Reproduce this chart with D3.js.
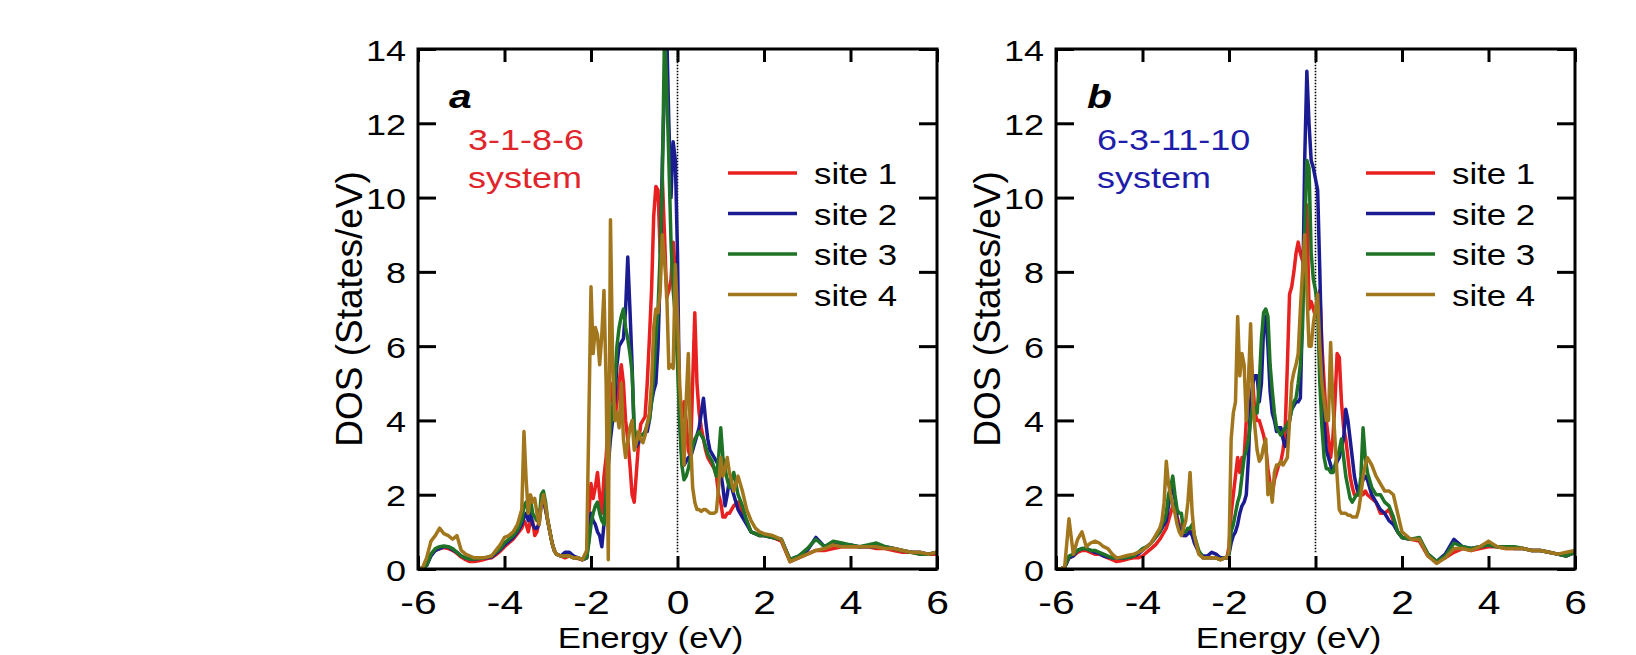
<!DOCTYPE html>
<html>
<head>
<meta charset="utf-8">
<script src="https://cdn.jsdelivr.net/npm/d3@7"></script>
<style>
body { margin: 0; background: #fff; }
svg text { font-family: "Liberation Sans", Arial, sans-serif; fill: #000; }
</style>
</head>
<body>
<div id="chart"></div>
<script>
// energy grid (eV), shared by all curves
var energy = [
  -6.0, -5.9, -5.8, -5.7, -5.6, -5.5, -5.4, -5.3, -5.2, -5.1,
  -5.0, -4.9, -4.8, -4.7, -4.6, -4.5, -4.4, -4.3, -4.2, -4.1,
  -4.0, -3.9, -3.8, -3.7, -3.6,
  -3.55, -3.5, -3.45, -3.4, -3.35, -3.3, -3.25, -3.2, -3.15, -3.1, -3.05, -3.0, -2.95, -2.9, -2.85, -2.8,
  -2.7, -2.6, -2.5, -2.4, -2.3, -2.2, -2.1,
  -2.05, -2.0, -1.95, -1.9, -1.85, -1.8, -1.75, -1.7, -1.65, -1.6,
  -1.55, -1.5, -1.45, -1.4, -1.35, -1.3, -1.25, -1.2, -1.15, -1.1,
  -1.05, -1.0, -0.95, -0.9, -0.85, -0.8, -0.75, -0.7, -0.65, -0.6,
  -0.55, -0.5, -0.45, -0.4, -0.35, -0.3, -0.25, -0.2, -0.15, -0.1,
  -0.05, 0.0, 0.05, 0.1, 0.15, 0.2, 0.25, 0.3, 0.35, 0.4,
  0.45, 0.5, 0.55, 0.6, 0.65, 0.7, 0.75, 0.8, 0.85, 0.9,
  0.95, 1.0, 1.05, 1.1, 1.15, 1.2,
  1.3, 1.4, 1.5, 1.6, 1.7, 1.8, 1.9, 2.0,
  2.2, 2.4, 2.6, 2.8, 3.0, 3.2, 3.4, 3.6, 3.8, 4.0,
  4.2, 4.4, 4.6, 4.8, 5.0, 5.2, 5.4, 5.6, 5.8, 6.0
];

var siteNames = ["site 1", "site 2", "site 3", "site 4"];
var siteColors = ["#e8201f", "#1c1c92", "#1f7326", "#a2761c"];
var xTicks = [-6, -4, -2, 0, 2, 4, 6];
var yTicks = [0, 2, 4, 6, 8, 10, 12, 14];
var panelLetters = ["a", "b"];
var systemNames = ["3-1-8-6", "6-3-11-10"];
var systemColors = ["#e0262b", "#1e1eaa"];

// panel a : 3-1-8-6 system
var a_site1 = [
  0, 0.02, 0.1, 0.4, 0.5, 0.55, 0.58, 0.55, 0.5, 0.42,
  0.32, 0.25, 0.2, 0.2, 0.22, 0.25, 0.28, 0.3, 0.38, 0.48,
  0.6, 0.7, 0.8, 0.95, 1.1,
  1.3, 1.2, 1.0, 1.3, 1.3, 0.9, 1.0, 1.3, 1.8, 2.0, 1.6, 1.3, 1.0, 0.7, 0.5, 0.4,
  0.35, 0.3, 0.35, 0.3, 0.28, 0.25, 0.3,
  1.5, 2.3, 1.9, 2.2, 2.6, 2.0, 1.5, 2.5, 3.0, 4.0,
  5.0, 4.6, 4.0, 4.5, 5.0, 5.5, 5.0, 4.0, 3.5, 2.8,
  2.0, 1.8, 2.6, 3.4, 3.9, 4.0, 4.1, 5.0, 6.2, 7.5,
  9.5, 10.3, 10.2, 8.5, 10.5, 9.0, 7.3, 7.5, 7.8, 8.8,
  8.0, 6.5, 4.2, 4.0, 4.5, 4.0, 3.2, 3.0, 5.0, 6.9,
  5.0, 4.2, 3.8, 3.5, 3.2, 3.0, 2.9, 2.8, 2.7, 2.5,
  2.0, 1.8, 1.4, 1.4, 1.5, 1.5,
  1.7, 1.8, 1.5, 1.3, 1.0, 0.95, 0.9, 0.9,
  0.85, 0.75, 0.2, 0.3, 0.4, 0.5, 0.5, 0.55, 0.6, 0.6,
  0.6, 0.6, 0.55, 0.55, 0.5, 0.45, 0.45, 0.4, 0.4, 0.4
];
var a_site2 = [
  0, 0.02, 0.1, 0.35, 0.5, 0.55, 0.6, 0.6, 0.52, 0.45,
  0.35, 0.3, 0.27, 0.27, 0.28, 0.3, 0.3, 0.32, 0.42, 0.52,
  0.65, 0.75, 0.85, 1.0, 1.2,
  1.4, 1.5, 1.3, 1.5, 1.2, 1.1, 1.1, 1.2, 1.8, 1.9, 1.6, 1.3, 1.0, 0.7, 0.5, 0.4,
  0.35, 0.45, 0.45, 0.35, 0.3, 0.25, 0.3,
  0.8, 1.5, 1.3, 1.2, 1.0, 0.9, 0.6, 1.2, 2.0, 2.8,
  3.5, 4.0, 4.5, 5.5, 6.0, 6.1, 6.2, 7.0, 8.4, 7.0,
  5.5, 3.5, 3.3, 3.4, 3.6, 3.6, 3.7, 3.7, 4.0, 4.5,
  4.8, 5.0, 6.0, 8.0, 11.0, 13.0, 14.5, 12.0, 10.0, 11.5,
  11.0, 8.5, 4.0, 3.0, 2.8, 2.9, 3.0, 3.0, 3.2, 3.4,
  3.6, 3.8, 4.2, 4.6, 4.0, 3.5, 3.2, 3.1, 3.0, 2.9,
  2.8, 2.6, 2.2, 1.7, 2.0, 2.4,
  2.0, 1.6, 1.4, 1.2, 1.0, 0.95, 0.9, 0.9,
  0.85, 0.8, 0.25, 0.35, 0.5, 0.85, 0.6, 0.7, 0.65, 0.65,
  0.6, 0.6, 0.6, 0.6, 0.55, 0.5, 0.45, 0.45, 0.4, 0.45
];
var a_site3 = [
  0, 0.02, 0.1, 0.4, 0.55, 0.6, 0.62, 0.6, 0.55, 0.45,
  0.35, 0.3, 0.27, 0.27, 0.28, 0.3, 0.32, 0.35, 0.45, 0.55,
  0.7, 0.8, 0.9, 1.05, 1.3,
  1.7, 1.8, 1.5, 1.9, 1.5, 1.4, 1.3, 1.3, 2.0, 2.1, 1.8, 1.3, 1.0, 0.7, 0.5, 0.4,
  0.35, 0.35, 0.35, 0.3, 0.3, 0.25, 0.3,
  0.7, 1.2, 1.5, 1.7, 1.8, 1.5, 1.3, 1.2, 2.0, 3.0,
  3.8, 4.3, 5.0, 6.0, 6.5, 6.8, 7.0, 6.5, 6.2, 5.8,
  5.3, 3.8, 3.5, 3.5, 3.6, 3.6, 3.7, 3.9, 4.0, 4.5,
  5.2, 6.2, 7.0, 8.5, 10.5, 14.5, 13.0, 11.0, 8.8, 7.5,
  6.8, 5.5, 4.0, 2.8, 2.4, 2.5, 2.7, 3.0, 3.3, 3.5,
  3.6, 3.7, 3.6, 3.5, 3.3, 3.1, 3.0, 2.9, 2.7, 2.5,
  3.0, 3.8, 3.0, 2.7, 2.4, 2.2,
  2.6, 2.0, 1.7, 1.3, 1.0, 0.95, 0.9, 0.9,
  0.85, 0.8, 0.25, 0.35, 0.55, 0.8, 0.6, 0.75, 0.7, 0.65,
  0.6, 0.65, 0.7, 0.6, 0.55, 0.5, 0.45, 0.4, 0.4, 0.45
];
var a_site4 = [
  0, 0.02, 0.3, 0.75, 0.9, 1.1, 0.95, 0.9, 0.8, 0.9,
  0.5, 0.4, 0.35, 0.3, 0.3, 0.3, 0.32, 0.35, 0.5, 0.65,
  0.85, 0.9, 1.0, 1.2, 1.6,
  3.7, 2.4, 1.5, 2.0, 1.8, 1.9, 1.5, 1.2, 1.7, 2.0, 1.7, 1.3, 1.0, 0.7, 0.5, 0.4,
  0.35, 0.35, 0.35, 0.3, 0.3, 0.25, 0.5,
  4.0, 7.6, 5.8, 6.5, 6.3, 5.5, 6.3, 7.5, 5.0, 0.25,
  9.4, 5.6, 4.0, 4.2, 3.8, 5.0, 3.5, 3.0, 3.4, 3.8,
  4.0, 3.2, 3.4, 3.7, 3.5, 3.4, 3.6, 3.9, 4.2, 5.0,
  6.5, 7.0, 6.9, 7.5, 9.0, 8.3, 7.5, 5.4, 5.5, 5.4,
  8.2, 6.8, 5.0, 4.0, 2.8, 4.5, 5.8, 3.5, 2.2, 1.8,
  1.6, 1.6, 1.55, 1.6, 1.6, 1.55, 1.5, 1.5, 1.5, 1.55,
  2.2, 3.0, 2.5, 2.7, 3.0, 2.6,
  2.1, 2.5, 2.1, 1.6, 1.3, 1.1, 1.0, 0.95,
  0.9, 0.8, 0.2, 0.3, 0.4, 0.5, 0.55, 0.65, 0.6, 0.6,
  0.6, 0.6, 0.6, 0.55, 0.55, 0.5, 0.45, 0.45, 0.4, 0.45
];

// panel b : 6-3-11-10 system
var b_site1 = [
  0, 0, 0.05, 0.3, 0.35, 0.45, 0.5, 0.5, 0.45, 0.4,
  0.4, 0.35, 0.3, 0.25, 0.2, 0.22, 0.25, 0.28, 0.3, 0.3,
  0.35, 0.45, 0.55, 0.65, 0.8,
  0.9, 1.0, 1.1, 1.3, 1.5, 1.7, 1.6, 1.4, 1.2, 1.0, 0.9, 0.9, 1.0, 1.0, 1.0, 0.8,
  0.45, 0.3, 0.3, 0.3, 0.3, 0.25, 0.3,
  0.3, 0.6, 1.5, 2.0, 2.5, 3.0, 2.6, 3.0, 3.0, 4.0,
  5.0, 6.0, 5.0, 4.2, 4.0, 4.0, 3.8, 3.6, 3.3, 2.7,
  2.3, 2.0, 2.4, 2.6, 2.8, 2.9, 3.2, 3.8, 5.5, 7.4,
  7.6, 8.0, 8.5, 8.8, 8.5, 8.3, 9.0, 9.8, 7.0, 7.2,
  7.0, 6.8, 7.2, 7.5, 6.0, 5.0, 4.0, 3.5, 3.0, 3.5,
  4.5, 5.8, 5.7, 4.5, 3.8, 3.5, 3.0, 2.5, 2.2, 2.0,
  2.0, 2.0, 2.0, 2.0, 2.1, 2.0,
  1.9, 1.8, 1.5, 1.5, 1.6, 1.3, 1.0, 0.85,
  0.8, 0.75, 0.35, 0.2, 0.3, 0.45, 0.55, 0.5, 0.55, 0.6,
  0.6, 0.55, 0.55, 0.55, 0.5, 0.5, 0.45, 0.4, 0.35, 0.45
];
var b_site2 = [
  0, 0, 0.05, 0.3, 0.35, 0.5, 0.55, 0.55, 0.5, 0.45,
  0.42, 0.35, 0.32, 0.3, 0.3, 0.3, 0.3, 0.32, 0.35, 0.4,
  0.5, 0.6, 0.7, 0.85, 1.0,
  1.1, 1.2, 1.3, 1.7, 2.0, 2.2, 1.9, 1.3, 1.1, 1.0, 0.9, 0.9, 0.95, 1.0, 0.9, 0.7,
  0.45, 0.35, 0.35, 0.45, 0.4, 0.3, 0.3,
  0.3, 0.4, 0.7, 0.9, 1.0, 1.2, 1.5, 1.7, 1.8, 2.0,
  3.0, 4.5, 5.0, 5.2, 5.2, 4.5, 5.0, 6.5, 6.8, 6.0,
  4.8, 4.2, 4.0, 3.7, 3.8, 3.8, 3.5, 3.3, 3.5, 4.0,
  4.3, 4.4, 4.5, 4.5, 4.6, 7.0, 11.0, 13.4, 12.0, 11.0,
  10.8, 10.5, 10.2, 8.0, 5.5, 4.0, 3.2, 3.0, 2.8, 2.6,
  2.7, 2.9, 3.0, 3.3, 3.5, 4.3, 4.0, 3.5, 3.0, 2.5,
  2.2, 2.0, 2.2, 2.4, 2.5, 2.4,
  2.0, 1.8, 1.6, 1.5, 1.3, 1.2, 1.0, 0.85,
  0.8, 0.8, 0.4, 0.2, 0.4, 0.8, 0.6, 0.55, 0.6, 0.65,
  0.6, 0.6, 0.55, 0.55, 0.5, 0.5, 0.45, 0.4, 0.35, 0.45
];
var b_site3 = [
  0, 0, 0.05, 0.35, 0.4, 0.5, 0.55, 0.55, 0.5, 0.5,
  0.45, 0.4, 0.35, 0.3, 0.3, 0.3, 0.3, 0.32, 0.35, 0.45,
  0.55, 0.6, 0.7, 0.85, 1.0,
  1.2, 1.3, 1.5, 2.0, 2.2, 2.5, 2.0, 1.6, 1.5, 1.5, 1.0, 1.0, 1.1, 1.1, 1.2, 0.9,
  0.5, 0.3, 0.3, 0.3, 0.3, 0.25, 0.3,
  0.3, 0.4, 1.0, 1.2, 1.5, 1.8, 2.0, 2.5, 3.0, 3.2,
  3.5, 4.0, 4.4, 4.3, 4.2, 5.0, 6.2, 6.9, 7.0, 6.8,
  5.5, 4.8, 4.2, 3.8, 3.7, 3.6, 3.7, 3.8, 3.9, 4.0,
  4.3, 4.5, 4.6, 5.0, 5.5, 6.5, 9.0, 11.0, 10.8, 8.5,
  7.8, 7.5, 7.0, 5.0, 3.8, 3.0, 2.7, 2.7, 2.6, 2.6,
  2.8, 3.0, 3.2, 3.5, 3.0, 2.5, 2.2, 1.9, 1.8, 1.9,
  2.0, 2.0, 2.5, 3.8, 3.0, 2.6,
  2.2, 2.0, 2.0, 1.8, 1.7, 1.4, 1.0, 0.85,
  0.8, 0.85, 0.4, 0.2, 0.35, 0.7, 0.6, 0.55, 0.6, 0.65,
  0.6, 0.6, 0.6, 0.55, 0.5, 0.5, 0.45, 0.4, 0.35, 0.45
];
var b_site4 = [
  0, 0, 0.05, 1.35, 0.4, 0.8, 1.0, 0.6, 0.7, 0.75,
  0.7, 0.6, 0.55, 0.4, 0.3, 0.32, 0.35, 0.38, 0.4, 0.45,
  0.5, 0.6, 0.7, 0.9, 1.1,
  1.3, 1.8, 2.9, 2.3, 2.0, 1.7, 1.5, 1.2, 1.0, 0.9, 1.1, 1.3, 1.8, 2.6, 1.5, 0.9,
  0.4, 0.3, 0.3, 0.3, 0.3, 0.25, 0.3,
  0.3, 0.5, 3.5, 4.2, 4.5, 6.8, 5.2, 5.8, 5.5, 4.0,
  5.0, 6.6, 4.5, 3.8, 3.2, 2.9, 3.0, 3.3, 3.5, 2.0,
  2.3, 1.8, 2.6, 2.8, 2.8, 2.9, 2.8, 2.9, 3.0, 4.0,
  5.0, 5.3, 5.5, 5.8, 7.0, 8.0, 9.0, 7.5, 6.0, 6.0,
  6.6, 7.0, 7.4, 6.0, 5.0, 4.5, 4.0, 4.0, 6.1, 4.5,
  3.5, 2.5, 1.6, 1.5, 1.5, 1.5, 1.45, 1.45, 1.4, 1.4,
  1.4, 1.6, 2.0, 2.5, 2.8, 3.0,
  2.8, 2.5, 2.3, 2.1, 2.1, 2.0, 1.5, 1.0,
  0.8, 0.8, 0.35, 0.15, 0.3, 0.55, 0.55, 0.5, 0.6, 0.75,
  0.6, 0.55, 0.55, 0.55, 0.5, 0.5, 0.45, 0.4, 0.45, 0.5
];

var W = 1636, H = 655;
var stretch = 1.2; // the original figure is a bit wider than tall, text too

var svg = d3.select("#chart")
    .append("svg")
    .attr("width", W)
    .attr("height", H);

svg.append("rect")
    .attr("width", W)
    .attr("height", H)
    .attr("fill", "#fff");

// plain hyphen minus like the original, not the unicode minus d3 uses
function plainNum(d) { return String(d); }

function drawPanel(k, left, series) {
    var x = d3.scaleLinear().domain([-6, 6]).range([left, left + 519]);
    var y = d3.scaleLinear().domain([0, 14]).range([569, 49]);
    var g = svg.append("g");
    var clipId = "clip" + k;

    g.append("clipPath")
        .attr("id", clipId)
        .append("rect")
        .attr("x", x(-6))
        .attr("y", y(14))
        .attr("width", x(6) - x(-6))
        .attr("height", y(0) - y(14));

    // Fermi level
    g.append("line")
        .attr("x1", x(0))
        .attr("x2", x(0))
        .attr("y1", y(0.45))
        .attr("y2", y(14))
        .style("stroke", "#000")
        .style("stroke-width", 1.6)
        .style("stroke-dasharray", "1.5,1.5");

    var line = d3.line()
        .x(function (d, i) { return x(energy[i]); })
        .y(function (d) { return y(d); });

    for (var j = 0; j < series.length; j++) {
        g.append("path")
            .datum(series[j])
            .attr("d", line)
            .attr("clip-path", "url(#" + clipId + ")")
            .style("fill", "none")
            .style("stroke", siteColors[j])
            .style("stroke-width", 3.5)
            .style("stroke-linejoin", "round");
    }

    // axes, ticks pointing inward
    var bottom = g.append("g")
        .attr("transform", "translate(0," + y(0) + ")")
        .call(d3.axisBottom(x).tickValues(xTicks).tickFormat(plainNum)
            .tickSizeInner(-13).tickSizeOuter(0).tickPadding(21));
    bottom.selectAll("text")
        .attr("font-size", 34)
        .attr("transform", "scale(" + stretch + ",1)");

    g.append("g")
        .attr("transform", "translate(0," + y(14) + ")")
        .call(d3.axisTop(x).tickValues(xTicks).tickSizeInner(-13).tickSizeOuter(0).tickFormat(""));

    var leftAx = g.append("g")
        .attr("transform", "translate(" + x(-6) + ",0)")
        .call(d3.axisLeft(y).tickValues(yTicks).tickFormat(plainNum)
            .tickSizeInner(-18).tickSizeOuter(0));
    leftAx.selectAll("text")
        .attr("font-size", 30)
        .attr("x", -12 / stretch)
        .attr("dy", "0.37em")
        .attr("transform", "scale(" + stretch + ",1)");

    g.append("g")
        .attr("transform", "translate(" + x(6) + ",0)")
        .call(d3.axisRight(y).tickValues(yTicks).tickSizeInner(-18).tickSizeOuter(0).tickFormat(""));

    g.selectAll(".domain").remove();
    g.selectAll(".tick line")
        .attr("stroke", "#000")
        .attr("stroke-width", 3);
    g.selectAll(".tick text")
        .attr("fill", "#000")
        .attr("font-family", "'Liberation Sans', Arial, sans-serif");

    g.append("rect")
        .attr("x", x(-6))
        .attr("y", y(14))
        .attr("width", x(6) - x(-6))
        .attr("height", y(0) - y(14))
        .style("fill", "none")
        .style("stroke", "#000")
        .style("stroke-width", 3);

    // axis titles
    g.append("text")
        .attr("transform", "translate(" + (left - 56) + "," + ((y(0) + y(14)) / 2) + ") rotate(-90)")
        .attr("text-anchor", "middle")
        .attr("font-size", 37)
        .text("DOS (States/eV)");

    g.append("text")
        .attr("transform", "translate(" + ((x(-6) + x(6)) / 2 - 27) + ",648) scale(" + stretch + ",1)")
        .attr("text-anchor", "middle")
        .attr("font-size", 29)
        .text("Energy (eV)");

    // panel letter and system name
    g.append("text")
        .attr("transform", "translate(" + (left + 31) + ",108) scale(" + stretch + ",1)")
        .attr("font-size", 34)
        .attr("font-weight", "bold")
        .attr("font-style", "italic")
        .text(panelLetters[k]);

    var sysX = k == 0 ? left + 50 : left + 41;
    g.append("text")
        .attr("transform", "translate(" + sysX + ",150) scale(" + stretch + ",1)")
        .attr("font-size", 30)
        .style("fill", systemColors[k])
        .text(systemNames[k]);
    g.append("text")
        .attr("transform", "translate(" + sysX + ",188) scale(" + stretch + ",1)")
        .attr("font-size", 30)
        .style("fill", systemColors[k])
        .text("system");

    // legend
    var right = x(6);
    for (var i = 0; i < siteNames.length; i++) {
        var ly = 173 + i * 40.5;
        g.append("line")
            .attr("x1", right - 209)
            .attr("x2", right - 140)
            .attr("y1", ly)
            .attr("y2", ly)
            .style("stroke", siteColors[i])
            .style("stroke-width", 3.5);
        g.append("text")
            .attr("transform", "translate(" + (right - 123) + "," + (ly + 11) + ") scale(" + stretch + ",1)")
            .attr("font-size", 29)
            .text(siteNames[i]);
    }
}

drawPanel(0, 418, [a_site1, a_site2, a_site3, a_site4]);
drawPanel(1, 1056, [b_site1, b_site2, b_site3, b_site4]);
</script>
</body>
</html>
